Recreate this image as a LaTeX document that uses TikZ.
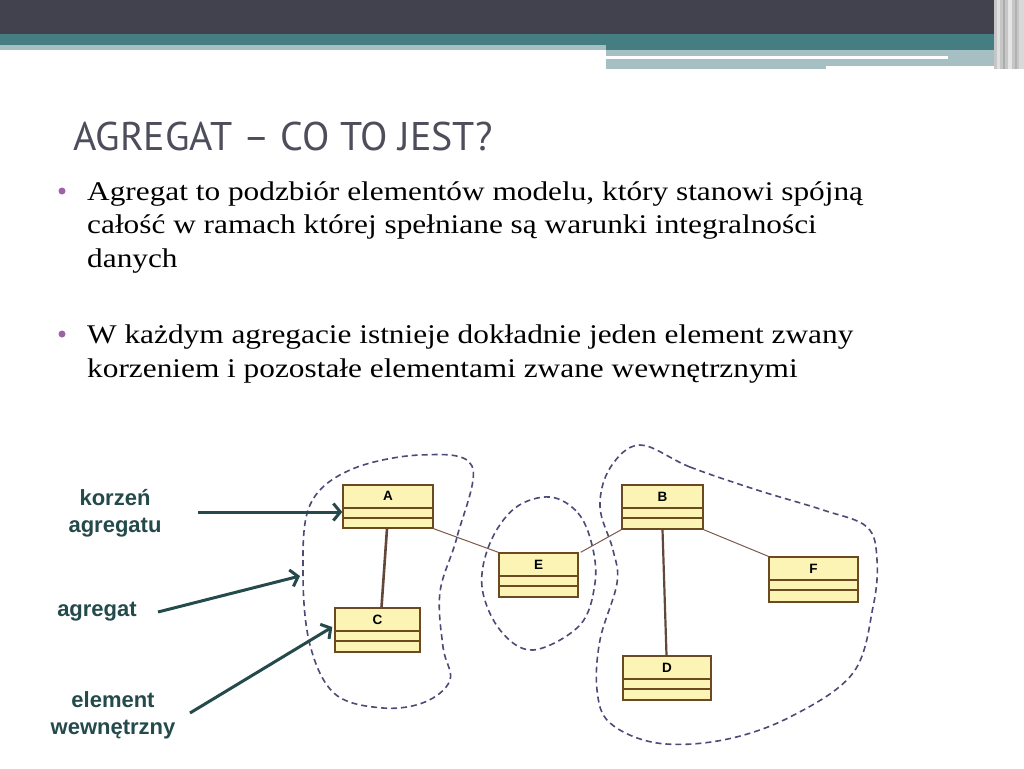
\documentclass[tikz,border=0pt]{standalone}
\usepackage{fontspec}
\setmainfont{Liberation Serif}[FakeStretch=1.16]
\newfontfamily\titlefont{PT Sans}
\newfontfamily\labfont{Liberation Sans}
\usetikzlibrary{arrows.meta}
\definecolor{topdark}{HTML}{42424F}
\definecolor{topteal}{HTML}{457E82}
\definecolor{toplight}{HTML}{A6BFC2}
\definecolor{titlegray}{HTML}{4D4D5C}
\definecolor{bulletpurple}{HTML}{9E62A6}
\definecolor{boxfill}{HTML}{FCF4B4}
\definecolor{boxline}{HTML}{6B4A22}
\definecolor{blobline}{HTML}{4B4B78}
\definecolor{arrowteal}{HTML}{244A4C}
\definecolor{linkbrown}{HTML}{7A5A4A}
\begin{document}
\begin{tikzpicture}[x=1pt, y=-1pt,
  umlbox/.style={draw=boxline, fill=boxfill, line width=1.4pt, inner sep=0pt,
    path picture={\draw[boxline, line width=1.1pt] ([yshift=-23pt]path picture bounding box.north west) -- ([yshift=-23pt]path picture bounding box.north east);
      \draw[boxline, line width=1.1pt] ([yshift=-33pt]path picture bounding box.north west) -- ([yshift=-33pt]path picture bounding box.north east);}},
  boxlet/.style={font=\labfont\bfseries\fontsize{13.5}{13.5}\selectfont, yshift=10.5pt},
  blob/.style={draw=blobline, dashed, dash pattern=on 6pt off 4pt, line width=1.6pt},
  pointer/.style={draw=arrowteal, line width=3pt, -{Straight Barb[length=7pt,width=17pt]}},
  sidetxt/.style={font=\labfont\bfseries\fontsize{22}{27}\selectfont, text=arrowteal, align=center},
  bodytxt/.style={anchor=base west, inner sep=0pt, font=\fontsize{27}{34}\selectfont},
  bull/.style={circle, fill=bulletpurple, minimum size=7pt, inner sep=0pt}]
\useasboundingbox (0,0) rectangle (1024,768);
\fill[white] (0,0) rectangle (1024,768);
\fill[topdark] (0,0) rectangle (1024,34);
\fill[topteal] (0,34) rectangle (1006,45);
\fill[toplight] (0,45) rectangle (606,50);
\fill[topteal] (606,45) rectangle (1006,50);
\fill[toplight] (606,50) rectangle (1006,56);
\fill[toplight] (606,59) rectangle (826,69);
\fill[toplight] (826,59) rectangle (1006,66);
\fill[toplight] (948,56) rectangle (1006,59);
\fill[gray!45] (994,0) rectangle (1024,69);
\fill[gray!25] (997,0) rectangle (1000,69);
\fill[gray!65] (1003,0) rectangle (1005,69);
\fill[gray!20] (1008,0) rectangle (1012,69);
\fill[gray!60] (1015,0) rectangle (1017,69);
\fill[gray!30] (1019,0) rectangle (1024,69);

\node[anchor=base west, inner sep=0pt, font=\titlefont\fontsize{40}{40}\selectfont, text=titlegray] (title) at (73,150) {AGREGAT – CO TO JEST?};

\node[bull] (b1) at (62,191) {};
\node[bodytxt] (l1) at (87,200) {Agregat to podzbiór elementów modelu, który stanowi spójną};
\node[bodytxt] (l2) at (87,233) {całość w ramach której spełniane są warunki integralności};
\node[bodytxt] (l3) at (87,267) {danych};
\node[bull] (b2) at (62,334) {};
\node[bodytxt] (l4) at (87,343) {W każdym agregacie istnieje dokładnie jeden element zwany};
\node[bodytxt] (l5) at (87,377) {korzeniem i pozostałe elementami zwane wewnętrznymi};

\draw[blob] plot[smooth cycle, tension=0.6] coordinates {(472,466) (457,537) (440,592) (443,647) (450,680) (425,702) (383,708) (335,694) (310,645) (303,573) (310,505) (350,470) (420,455)};
\draw[blob] plot[smooth cycle, tension=0.6] coordinates {(550,497) (578,513) (592,545) (595,583) (580,625) (533,650) (500,630) (482,587) (490,543) (515,508)};
\draw[blob] plot[smooth cycle, tension=0.6] coordinates {(640,445) (690,467) (757,490) (823,510) (867,527) (877,560) (873,607) (853,673) (790,717) (723,740) (657,743) (610,723) (597,690) (600,640) (617,583) (613,550) (600,507) (610,468)};

\node[umlbox, minimum width=90pt, minimum height=43pt, label={[boxlet]center:A}] (A) at (388,506.5) {};
\node[umlbox, minimum width=85pt, minimum height=44pt, label={[boxlet]center:C}] (C) at (377.5,630) {};
\node[umlbox, minimum width=79pt, minimum height=44pt, label={[boxlet]center:E}] (E) at (538.5,575) {};
\node[umlbox, minimum width=81pt, minimum height=44pt, label={[boxlet]center:B}] (B) at (662.5,507) {};
\node[umlbox, minimum width=89pt, minimum height=45pt, label={[boxlet]center:F}] (F) at (813.5,579.5) {};
\node[umlbox, minimum width=88pt, minimum height=44pt, label={[boxlet]center:D}] (D) at (667,678) {};

\draw[draw=linkbrown!80!black, line width=2.6pt] ([xshift=-1pt]A.south) -- ([xshift=4pt]C.north);
\draw[draw=linkbrown, line width=1pt] (A.south east) -- (E.north west);
\draw[draw=linkbrown, line width=1pt] ([xshift=2pt]E.north east) -- (B.south west);
\draw[draw=linkbrown!80!black, line width=2.2pt] (B.south) -- ([xshift=-0.5pt]D.north);
\draw[draw=linkbrown, line width=1pt] (B.south east) -- (F.north west);

\node[sidetxt] (korz) at (115,513) {korzeń\\agregatu};
\node[sidetxt] (agr) at (97,612) {agregat};
\node[sidetxt] (elem) at (113,715) {element\\wewnętrzny};
\coordinate (korzS) at (198,512);
\coordinate (agrS) at (158,612);
\coordinate (agrE) at (300,576);
\coordinate (elemS) at (190,713);

\draw[pointer] (korzS) -- ([yshift=-5.5pt]A.west);
\draw[pointer] (agrS) -- (agrE);
\draw[pointer] (elemS) -- ([xshift=-2pt,yshift=3pt]C.west);
\end{tikzpicture}
\end{document}
